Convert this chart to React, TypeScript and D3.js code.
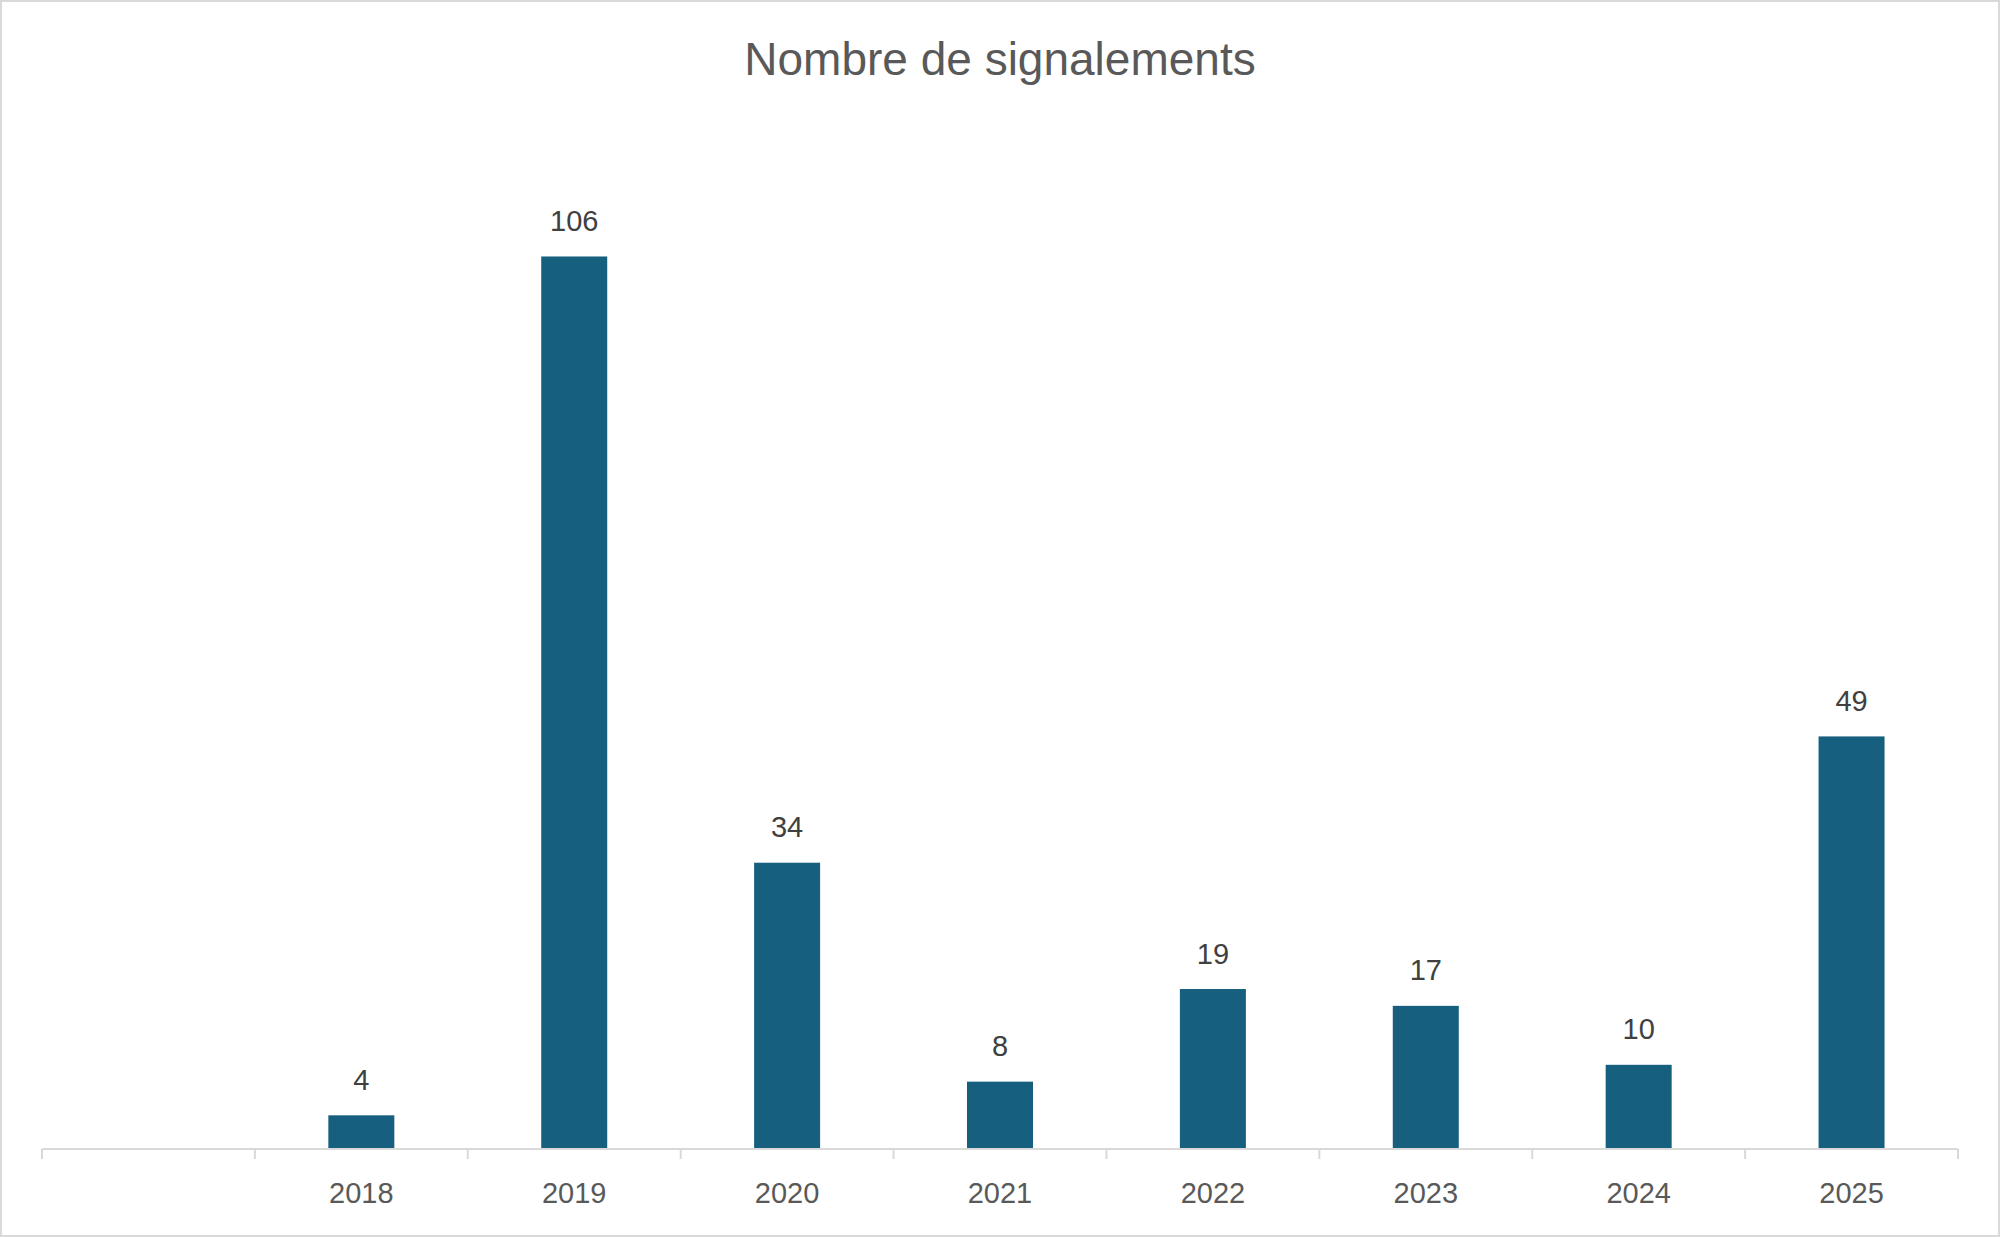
import React from "react";
import * as d3 from "d3";

const categories = ["", "2018", "2019", "2020", "2021", "2022", "2023", "2024", "2025"];
const values: (number | null)[] = [null, 4, 106, 34, 8, 19, 17, 10, 49];
const title = "Nombre de signalements";

const W = 2000;
const H = 1237;
const FONT = "'Liberation Sans', Arial, sans-serif";

export default function App() {
  const x = d3.scaleBand<string>().domain(categories).range([42, 1958]).padding(0);
  const y = d3.scaleLinear().domain([0, 120]).range([1149, 138.6]);
  const barFrac = 0.31;
  const bw = x.bandwidth() * barFrac;
  const tickPos = categories.map((c) => x(c) as number).concat([x.range()[1]]);

  return (
    <div style={{ position: "absolute", left: 0, top: 0 }}>
      <svg width={W} height={H} style={{ display: "block" }}>
        <rect x={0} y={0} width={W} height={H} fill="#ffffff" />
        <rect x={1} y={1} width={W - 2} height={H - 2} fill="none" stroke="#d9d9d9" strokeWidth={2} />
        <text x={1000} y={75} textAnchor="middle" fontFamily={FONT} fontSize={46} fill="#595959">
          {title}
        </text>
        {categories.map((c, i) => {
          const v = values[i];
          if (v == null) return null;
          const cx = (x(c) as number) + x.bandwidth() / 2;
          return (
            <g key={c}>
              <rect x={cx - bw / 2} y={y(v)} width={bw} height={y(0) - y(v)} fill="#175f7f" />
              <text x={cx} y={y(v) - 25.5} textAnchor="middle" fontFamily={FONT} fontSize={29} fill="#404040">
                {v}
              </text>
            </g>
          );
        })}
        <line x1={x.range()[0]} x2={x.range()[1]} y1={y(0)} y2={y(0)} stroke="#d9d9d9" strokeWidth={2} />
        {tickPos.map((t, i) => (
          <line key={i} x1={t} x2={t} y1={y(0)} y2={y(0) + 10} stroke="#d9d9d9" strokeWidth={2} />
        ))}
        {categories.map((c) => (
          <text
            key={"l" + c}
            x={(x(c) as number) + x.bandwidth() / 2}
            y={1203}
            textAnchor="middle"
            fontFamily={FONT}
            fontSize={29}
            fill="#595959"
          >
            {c}
          </text>
        ))}
      </svg>
    </div>
  );
}
